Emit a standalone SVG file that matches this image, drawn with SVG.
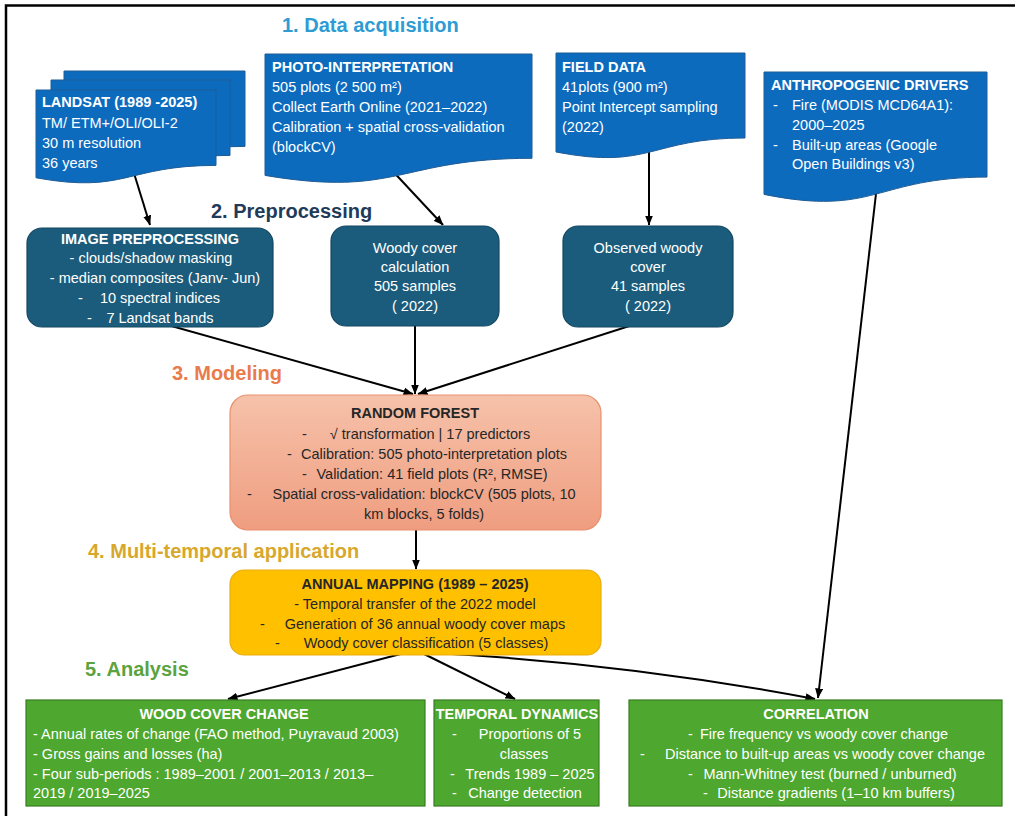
<svg xmlns="http://www.w3.org/2000/svg" width="1015" height="816" viewBox="0 0 1015 816">
  <style>
    text { font-family: "Liberation Sans", Arial, sans-serif; font-size: 14.5px; }
    .sec { font-size: 20px; font-weight: bold; }
    .w { fill: #ffffff; }
    .k { fill: #262626; }
    .b { font-weight: bold; }
    .c { text-anchor: middle; }
    .doc { fill: #0D6BBE; stroke: #1F5C95; stroke-width: 1; }
    .pre { fill: #1B5C7C; stroke: #134760; stroke-width: 1.2; }
    .grn { fill: #4EA72E; stroke: #3A7E22; stroke-width: 1.2; }
    .edge { fill: none; stroke: #000000; stroke-width: 2; }
  </style>
  <defs>
    <marker id="arr" markerUnits="userSpaceOnUse" markerWidth="10" markerHeight="8" refX="9.5" refY="4" orient="auto">
      <path d="M0,0 L10,4 L0,8 Z" fill="#000000"/>
    </marker>
    <linearGradient id="rfFill" x1="0" y1="0" x2="0" y2="1">
      <stop offset="0" stop-color="#F6C2AA"/>
      <stop offset="1" stop-color="#EF9D80"/>
    </linearGradient>
  </defs>

  <rect width="1015" height="816" fill="#ffffff"/>
  <!-- outer frame -->
  <path d="M6,816 V5.5 H1015" fill="none" stroke="#000000" stroke-width="2.5"/>

  <!-- section headings -->
  <g id="headings">
    <text class="sec" x="282" y="32" fill="#2E9BD3">1. Data acquisition</text>
    <text class="sec" x="211" y="218" fill="#1F3B5A">2. Preprocessing</text>
    <text class="sec" x="172" y="380" fill="#E97B4D">3. Modeling</text>
    <text class="sec" x="88" y="558" fill="#D7A82C">4. Multi-temporal application</text>
    <text class="sec" x="85" y="676" fill="#5BA33E">5. Analysis</text>
  </g>

  <!-- connectors -->
  <g id="connectors">
    <path class="edge" d="M133,170 L150,225" marker-end="url(#arr)"/>
    <path class="edge" d="M387,165 L443,225" marker-end="url(#arr)"/>
    <path class="edge" d="M649,140 L649,225" marker-end="url(#arr)"/>
    <path class="edge" d="M877,185 L818,698" marker-end="url(#arr)"/>
    <path class="edge" d="M150,320 L413,394" marker-end="url(#arr)"/>
    <path class="edge" d="M415,320 L415,394" marker-end="url(#arr)"/>
    <path class="edge" d="M648,320 L418,394" marker-end="url(#arr)"/>
    <path class="edge" d="M416,525 L416,569" marker-end="url(#arr)"/>
    <path class="edge" d="M416,650 L228,699" marker-end="url(#arr)"/>
    <path class="edge" d="M416,650 L515,699" marker-end="url(#arr)"/>
    <path class="edge" d="M416,652 Q620,662 815,699" marker-end="url(#arr)"/>
  </g>

  <!-- data sources -->
  <g id="landsat">
    <path class="doc" d="M64,71 H245 V146.4 C154.5,146.4 154.5,175.1 64,158.8 Z"/>
    <path class="doc" d="M51,80 H230 V155.4 C140.5,155.4 140.5,184.1 51,167.8 Z"/>
    <path class="doc" d="M36,90 H216 V165.4 C126,165.4 126,194.1 36,177.8 Z"/>
    <text class="w b" x="42" y="107">LANDSAT (1989 -2025)</text>
    <text class="w" x="42" y="128">TM/ ETM+/OLI/OLI-2</text>
    <text class="w" x="42" y="148">30 m resolution</text>
    <text class="w" x="42" y="168">36 years</text>
  </g>

  <g id="photo-interpretation">
    <path class="doc" d="M265,54 H532 V158.3 C398.5,158.3 398.5,197.9 265,175.4 Z"/>
    <text class="w b" x="272" y="72">PHOTO-INTERPRETATION</text>
    <text class="w" x="272" y="92">505 plots (2 500 m²)</text>
    <text class="w" x="272" y="112">Collect Earth Online (2021–2022)</text>
    <text class="w" x="272" y="132">Calibration + spatial cross-validation</text>
    <text class="w" x="272" y="152">(blockCV)</text>
  </g>

  <g id="field-data">
    <path class="doc" d="M556,53 H745 V138 C650.5,138 650.5,170.3 556,152 Z"/>
    <text class="w b" x="562" y="72">FIELD DATA</text>
    <text class="w" x="562" y="92">41plots (900 m²)</text>
    <text class="w" x="562" y="112">Point Intercept sampling</text>
    <text class="w" x="562" y="132">(2022)</text>
  </g>

  <g id="anthropogenic-drivers">
    <path class="doc" d="M764,72 H987 V177.1 C875.5,177.1 875.5,217 764,194.4 Z"/>
    <text class="w b" x="771" y="90">ANTHROPOGENIC DRIVERS</text>
    <text class="w" x="773" y="110">-</text>
    <text class="w" x="792" y="110">Fire (MODIS MCD64A1):</text>
    <text class="w" x="792" y="130">2000–2025</text>
    <text class="w" x="773" y="150">-</text>
    <text class="w" x="792" y="150">Built-up areas (Google</text>
    <text class="w" x="792" y="169">Open Buildings v3)</text>
  </g>

  <!-- preprocessing -->
  <g id="image-preprocessing">
    <rect class="pre" x="27" y="228" width="246" height="99" rx="15"/>
    <text class="w b c" x="150" y="244">IMAGE PREPROCESSING</text>
    <text class="w c" x="151" y="263">- clouds/shadow masking</text>
    <text class="w c" x="155" y="283">- median composites (Janv- Jun)</text>
    <text class="w" x="78" y="303">-</text>
    <text class="w c" x="160" y="303">10 spectral indices</text>
    <text class="w" x="87" y="323">-</text>
    <text class="w c" x="160" y="323">7 Landsat bands</text>
  </g>

  <g id="woody-cover-calculation">
    <rect class="pre" x="331" y="226" width="168" height="100" rx="15"/>
    <text class="w c" x="415" y="253">Woody cover</text>
    <text class="w c" x="415" y="272">calculation</text>
    <text class="w c" x="415" y="291">505 samples</text>
    <text class="w c" x="415" y="311">( 2022)</text>
  </g>

  <g id="observed-woody-cover">
    <rect class="pre" x="563" y="226" width="170" height="101" rx="15"/>
    <text class="w c" x="648" y="253">Observed woody</text>
    <text class="w c" x="648" y="272">cover</text>
    <text class="w c" x="648" y="291">41 samples</text>
    <text class="w c" x="648" y="311">( 2022)</text>
  </g>

  <!-- modeling -->
  <g id="random-forest">
    <rect x="230" y="395" width="371" height="135" rx="18" fill="url(#rfFill)" stroke="#E8906F" stroke-width="1.2"/>
    <text class="k b c" x="415" y="418">RANDOM FOREST</text>
    <text class="k" x="302" y="439">-</text>
    <text class="k c" x="430" y="439">√ transformation | 17 predictors</text>
    <text class="k" x="287" y="459">-</text>
    <text class="k c" x="434" y="459">Calibration: 505 photo-interpretation plots</text>
    <text class="k" x="302" y="479">-</text>
    <text class="k c" x="432" y="479">Validation: 41 field plots (R², RMSE)</text>
    <text class="k" x="247" y="499">-</text>
    <text class="k c" x="424" y="499">Spatial cross-validation: blockCV (505 plots, 10</text>
    <text class="k c" x="424" y="519">km blocks, 5 folds)</text>
  </g>

  <!-- multi-temporal application -->
  <g id="annual-mapping">
    <rect x="230" y="570" width="371" height="85" rx="14" fill="#FFC000" stroke="#E9AE10" stroke-width="1.2"/>
    <text class="k b c" x="415" y="589">ANNUAL MAPPING (1989 – 2025)</text>
    <text class="k c" x="415" y="609">- Temporal transfer of the 2022 model</text>
    <text class="k" x="260" y="629">-</text>
    <text class="k c" x="425" y="629">Generation of 36 annual woody cover maps</text>
    <text class="k" x="275" y="648">-</text>
    <text class="k c" x="426" y="648">Woody cover classification (5 classes)</text>
  </g>

  <!-- analysis -->
  <g id="wood-cover-change">
    <rect class="grn" x="26" y="700" width="399" height="106"/>
    <text class="w b c" x="224" y="719">WOOD COVER CHANGE</text>
    <text class="w" x="33" y="739">- Annual rates of change (FAO method, Puyravaud 2003)</text>
    <text class="w" x="33" y="759">- Gross gains and losses (ha)</text>
    <text class="w" x="33" y="779">- Four sub-periods : 1989–2001 / 2001–2013 / 2013–</text>
    <text class="w" x="33" y="798">2019 / 2019–2025</text>
  </g>

  <g id="temporal-dynamics">
    <rect class="grn" x="434" y="700" width="165" height="106"/>
    <text class="w b c" x="517" y="719">TEMPORAL DYNAMICS</text>
    <text class="w" x="452" y="739">-</text>
    <text class="w c" x="530" y="739">Proportions of 5</text>
    <text class="w c" x="524" y="759">classes</text>
    <text class="w" x="450" y="779">-</text>
    <text class="w c" x="530" y="779">Trends 1989 – 2025</text>
    <text class="w" x="452" y="798">-</text>
    <text class="w c" x="525" y="798">Change detection</text>
  </g>

  <g id="correlation">
    <rect class="grn" x="629" y="700" width="373" height="106"/>
    <text class="w b c" x="816" y="719">CORRELATION</text>
    <text class="w" x="688" y="739">-</text>
    <text class="w c" x="824" y="739">Fire frequency vs woody cover change</text>
    <text class="w" x="640" y="759">-</text>
    <text class="w c" x="825" y="759">Distance to built-up areas vs woody cover change</text>
    <text class="w" x="688" y="779">-</text>
    <text class="w c" x="830" y="779">Mann-Whitney test (burned / unburned)</text>
    <text class="w" x="703" y="798">-</text>
    <text class="w c" x="836" y="798">Distance gradients (1–10 km buffers)</text>
  </g>
</svg>
